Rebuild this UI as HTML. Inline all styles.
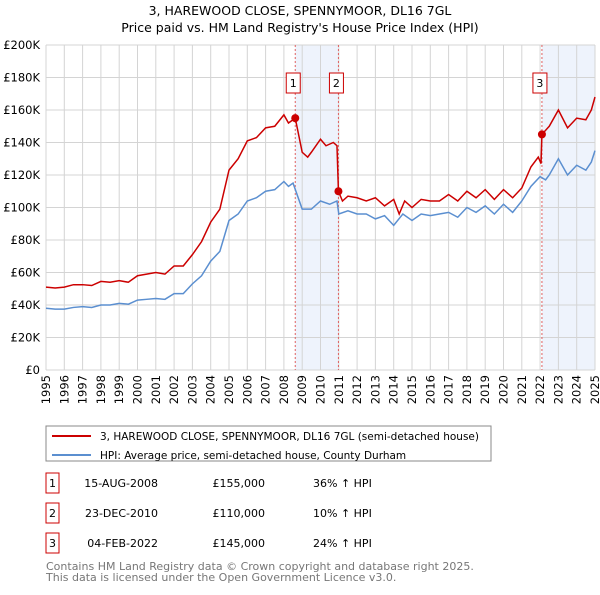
<!DOCTYPE html>
<html><head><meta charset="utf-8"><style>
body{margin:0;background:#fff;font-family:"Liberation Sans","DejaVu Sans",sans-serif;}
svg text{font-family:"DejaVu Sans","Liberation Sans",sans-serif;}
</style></head><body>
<svg id="c" width="600" height="590" xmlns="http://www.w3.org/2000/svg">
<text x="300" y="15" text-anchor="middle" font-size="12.5">3, HAREWOOD CLOSE, SPENNYMOOR, DL16 7GL</text>
<text x="300" y="32" text-anchor="middle" font-size="12.5">Price paid vs. HM Land Registry's House Price Index (HPI)</text>
<g id="plot"></g>
<rect x="46" y="426" width="445" height="35" fill="#fff" stroke="#888"/>
<line x1="52" y1="436" x2="91" y2="436" stroke="#cc0000" stroke-width="2"/>
<text x="100" y="440" font-size="10.5">3, HAREWOOD CLOSE, SPENNYMOOR, DL16 7GL (semi-detached house)</text>
<line x1="52" y1="455" x2="91" y2="455" stroke="#5b8fd0" stroke-width="2"/>
<text x="100" y="459" font-size="10.5">HPI: Average price, semi-detached house, County Durham</text>
<g id="table" font-size="11"></g>
<text x="46" y="570" font-size="11" fill="#777">Contains HM Land Registry data © Crown copyright and database right 2025.</text>
<text x="46" y="581" font-size="11" fill="#777">This data is licensed under the Open Government Licence v3.0.</text>
</svg>
<script>
const hpiYears=[1995,1995.5,1996,1996.5,1997,1997.5,1998,1998.5,1999,1999.5,2000,2000.5,2001,2001.5,2002,2002.5,2003,2003.5,2004,2004.5,2005,2005.5,2006,2006.5,2007,2007.5,2008,2008.25,2008.5,2009,2009.5,2010,2010.5,2010.9,2011,2011.5,2012,2012.5,2013,2013.5,2014,2014.5,2015,2015.5,2016,2016.5,2017,2017.5,2018,2018.5,2019,2019.5,2020,2020.5,2021,2021.5,2022,2022.3,2022.5,2023,2023.5,2024,2024.5,2024.8,2025];
const hpiValues=[38,37.5,37.5,38.5,39,38.5,40,40,41,40.5,43,43.5,44,43.5,47,47,53,58,67,73,92,96,104,106,110,111,116,113,115,99,99,104,102,104,96,98,96,96,93,95,89,96,92,96,95,96,97,94,100,97,101,96,102,97,104,113,119,117,120,130,120,126,123,128,135];
const priceYears=[1995,1995.5,1996,1996.5,1997,1997.5,1998,1998.5,1999,1999.5,2000,2000.5,2001,2001.5,2002,2002.5,2003,2003.5,2004,2004.5,2005,2005.5,2006,2006.5,2007,2007.5,2008,2008.25,2008.62,2009,2009.3,2009.5,2010,2010.3,2010.7,2010.9,2010.98,2011.2,2011.5,2012,2012.5,2013,2013.5,2014,2014.3,2014.6,2015,2015.5,2016,2016.5,2017,2017.5,2018,2018.5,2019,2019.5,2020,2020.5,2021,2021.5,2021.9,2022.05,2022.1,2022.5,2023,2023.5,2024,2024.5,2024.8,2025];
const priceValues=[51,50.5,51,52.5,52.5,52,54.5,54,55,54,58,59,60,59,64,64,71,79,91,99,123,130,141,143,149,150,157,152,155,134,131,134,142,138,140,138,110,104,107,106,104,106,101,105,96,104,100,105,104,104,108,104,110,106,111,105,111,106,112,125,131,127,145,150,160,149,155,154,160,168];
const saleLabels=["1","2","3"];
const saleYears=[2008.62,2010.98,2022.1];
const saleValues=[155,110,145];
const saleDates=["15-AUG-2008","23-DEC-2010","04-FEB-2022"];
const salePrices=["£155,000","£110,000","£145,000"];
const saleDiffs=["36% ↑ HPI","10% ↑ HPI","24% ↑ HPI"];
const yTicks=[0,20,40,60,80,100,120,140,160,180,200];
const xTicks=[1995,1996,1997,1998,1999,2000,2001,2002,2003,2004,2005,2006,2007,2008,2009,2010,2011,2012,2013,2014,2015,2016,2017,2018,2019,2020,2021,2022,2023,2024,2025];

const L=46,R=595,T=45,B=370;
const x=v=>L+(v-1995)/30*(R-L);
const y=v=>B-v/200*(B-T);
const NS="http://www.w3.org/2000/svg";
const g=document.getElementById('plot');
function mk(t,a,p){const e=document.createElementNS(NS,t);for(const k in a)e.setAttribute(k,a[k]);(p||g).appendChild(e);return e;}
[[saleYears[0],saleYears[1]],[saleYears[2],2025]].forEach((s,i)=>{
 const r=mk('rect',{x:x(s[0]),y:T,width:x(s[1])-x(s[0]),height:B-T,fill:'#eef3fc'});
 
 
});
yTicks.forEach(v=>{
 const l=mk('line',{x1:L,x2:R,y1:y(v),y2:y(v),stroke:'#d4d4d4'});
 
 
 const t=mk('text',{x:L-6,y:y(v)+4,'text-anchor':'end','font-size':'11.5'});
 
 
 t.textContent=v===0?'£0':'£'+v+'K';
});
xTicks.forEach(v=>{
 const l=mk('line',{x1:x(v),x2:x(v),y1:T,y2:B,stroke:'#d4d4d4'});
 
 
 const t=mk('text',{x:0,y:0,'text-anchor':'end','font-size':'11.5',transform:`translate(${x(v)+4},${B+5}) rotate(-90)`});
 
 
 t.textContent=v;
});
saleYears.forEach((v,i)=>{
 const l=mk('line',{x1:x(v),x2:x(v),y1:T,y2:B,stroke:'#e06060','stroke-dasharray':'2,2'});
 
 
});
function line(xs,vs,c,n){const p=mk('polyline',{points:xs.map((a,i)=>x(a)+','+y(vs[i])).join(' '),fill:'none',stroke:c,'stroke-width':1.5});
 
 }
line(hpiYears,hpiValues,'#5b8fd0','hpi-line');
line(priceYears,priceValues,'#cc0000','price-line');
saleYears.forEach((v,i)=>{
 const c=mk('circle',{cx:x(v),cy:y(saleValues[i]),r:4,fill:'#cc0000'});
 
 
 const bx=mk('rect',{x:x(v)-9,y:73,width:14,height:20,fill:'#fff',stroke:'#cc0000'});
 
 
 const t=mk('text',{x:x(v)-2,y:87,'text-anchor':'middle','font-size':'11'});
 
 
 t.textContent=saleLabels[i];
});
const tb=document.getElementById('table');
saleLabels.forEach((s,i)=>{
 const yy=483+i*30;
 const r=mk('rect',{x:46,y:yy-10,width:13,height:20,fill:'#fff',stroke:'#cc0000'},tb);
 
 
 [[52.5,s,'middle'],[158,saleDates[i],'end'],[265,salePrices[i],'end'],[313,saleDiffs[i],'start']].forEach(c=>{
  const t=mk('text',{x:c[0],y:yy+4,'text-anchor':c[2]},tb);
  
  
  t.textContent=c[1];
 });
});
</script>
</body></html>
